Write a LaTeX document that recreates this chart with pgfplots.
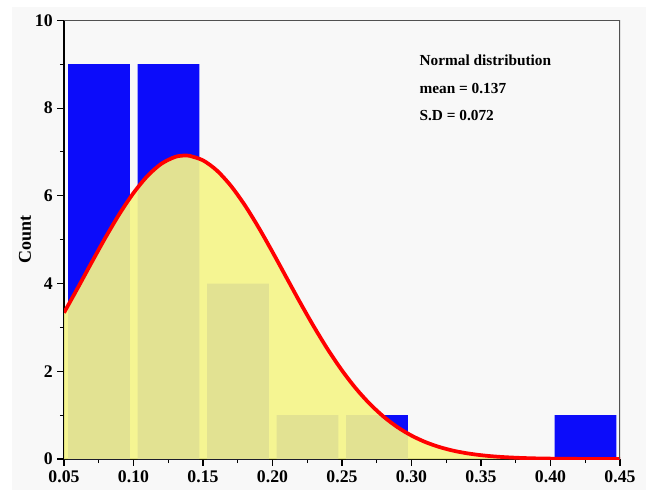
\documentclass[border=0pt]{standalone}
\usepackage{fontspec}
\setmainfont{Liberation Serif}
\usepackage{pgfplots}
\pgfplotsset{compat=1.18}
\usetikzlibrary{backgrounds}
\definecolor{barblue}{RGB}{12,12,250}
\definecolor{fillyellow}{RGB}{245,245,138}
\definecolor{bg}{RGB}{248,248,248}
\definecolor{frame}{RGB}{80,80,80}
\begin{document}
\begin{tikzpicture}
\begin{axis}[
  name=main,
  width=417pt, height=329pt, scale only axis,
  xmin=0.05, xmax=0.45, ymin=0, ymax=10,
  axis lines*=left,
  axis line style={-, line width=1pt, black},
  xtick={0.05,0.10,0.15,0.20,0.25,0.30,0.35,0.40,0.45},
  ytick={0,2,4,6,8,10},
  minor x tick num=1, minor y tick num=1,
  tick align=outside,
  major tick length=5pt, minor tick length=3pt,
  tick style={black, line width=0.8pt},
  xticklabel style={/pgf/number format/.cd, fixed, fixed zerofill, precision=2},
  yticklabel style={/pgf/number format/.cd, fixed, precision=0},
  /pgf/number format/assume math mode=true,
  ticklabel style={font=\fontsize{13.3}{15}\selectfont\bfseries},
  ylabel={Count},
  every axis y label/.style={at={(rel axis cs:-0.07,0.5)}, rotate=90, anchor=center,
     font=\fontsize{13.5}{16}\selectfont\bfseries},
  clip=true,
]
\addplot[ybar, bar width=0.0445, bar shift=0pt, fill=barblue, draw=none]
  coordinates {(0.0752,9) (0.1252,9) (0.1752,4) (0.2252,1) (0.2752,1) (0.4252,1)};
\addplot[draw=none, fill=fillyellow, fill opacity=0.92, smooth] coordinates {
(0.05,3.335) (0.06,3.906) (0.07,4.488) (0.08,5.058) (0.09,5.592) (0.10,6.064)
(0.11,6.450) (0.12,6.730) (0.13,6.887) (0.137,6.92) (0.14,6.914) (0.15,6.808)
(0.16,6.576) (0.17,6.230) (0.18,5.790) (0.19,5.278) (0.20,4.719) (0.21,4.139)
(0.22,3.560) (0.23,3.005) (0.24,2.487) (0.25,2.019) (0.26,1.608) (0.27,1.257)
(0.28,0.963) (0.29,0.724) (0.30,0.534) (0.31,0.386) (0.32,0.274) (0.33,0.190)
(0.34,0.130) (0.35,0.087) (0.36,0.057) (0.37,0.037) (0.38,0.023) (0.39,0.014)
(0.40,0.0088) (0.41,0.005) (0.42,0.003) (0.43,0.0017) (0.44,0.001) (0.45,0.0005)
} \closedcycle;
\addplot[red, line width=2.8pt, smooth] coordinates {
(0.05,3.335) (0.06,3.906) (0.07,4.488) (0.08,5.058) (0.09,5.592) (0.10,6.064)
(0.11,6.450) (0.12,6.730) (0.13,6.887) (0.137,6.92) (0.14,6.914) (0.15,6.808)
(0.16,6.576) (0.17,6.230) (0.18,5.790) (0.19,5.278) (0.20,4.719) (0.21,4.139)
(0.22,3.560) (0.23,3.005) (0.24,2.487) (0.25,2.019) (0.26,1.608) (0.27,1.257)
(0.28,0.963) (0.29,0.724) (0.30,0.534) (0.31,0.386) (0.32,0.274) (0.33,0.190)
(0.34,0.130) (0.35,0.087) (0.36,0.057) (0.37,0.037) (0.38,0.023) (0.39,0.014)
(0.40,0.0088) (0.41,0.005) (0.42,0.003) (0.43,0.0017) (0.44,0.001) (0.45,0.0005)
};
\draw[frame, line width=1.3pt] (rel axis cs:0,1) -- (rel axis cs:1,1) -- (rel axis cs:1,0);
\node[anchor=west, font=\fontsize{11.5}{13}\selectfont\bfseries] at (rel axis cs:0.631,0.909) {Normal distribution};
\node[anchor=west, font=\fontsize{11.5}{13}\selectfont\bfseries] at (rel axis cs:0.631,0.845) {mean = 0.137};
\node[anchor=west, font=\fontsize{11.5}{13}\selectfont\bfseries] at (rel axis cs:0.631,0.784) {S.D = 0.072};
\end{axis}
\begin{scope}[on background layer]
\fill[bg] ([shift={(-39pt,-23.25pt)}]main.south west) rectangle ([shift={(19.5pt,10pt)}]main.north east);
\end{scope}
\path ([shift={(-48pt,15.25pt)}]main.north west);
\end{tikzpicture}
\end{document}
